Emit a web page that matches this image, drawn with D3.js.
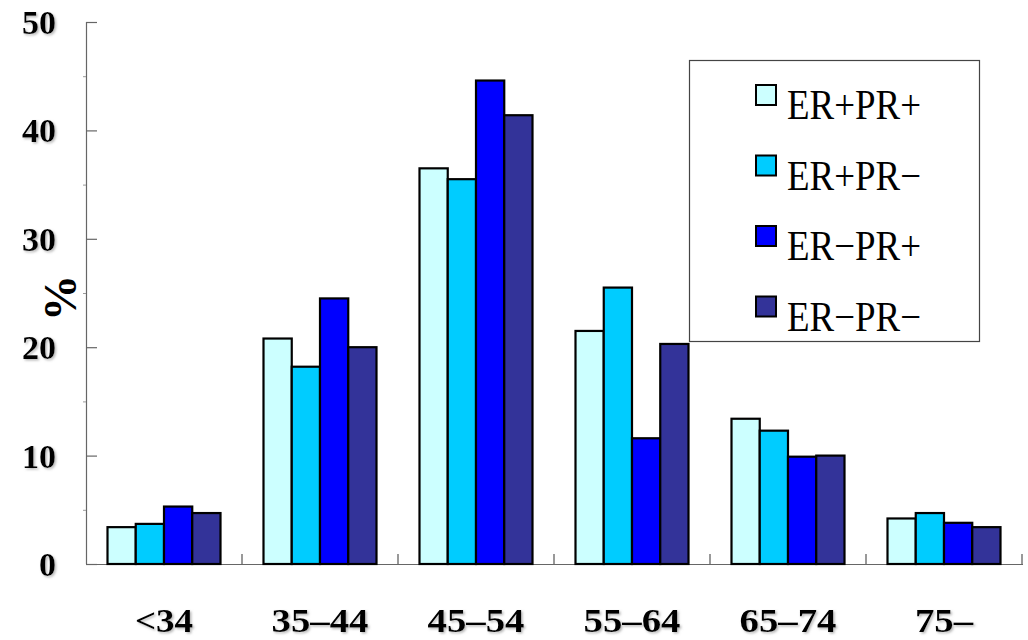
<!DOCTYPE html>
<html>
<head>
<meta charset="utf-8">
<script src="https://cdn.jsdelivr.net/npm/d3@7"></script>
<style>
  html, body { margin: 0; padding: 0; background: #ffffff; }
  svg { display: block; }
</style>
</head>
<body>
<svg id="chart" width="1028" height="640"></svg>
<script>
// ---- data ----
const categories = ["<34", "35-44", "45-54", "55-64", "65-74", "75-"];
const seriesNames = ["ER+PR+", "ER+PR\u2212", "ER\u2212PR+", "ER\u2212PR\u2212"];
const seriesColors = ["#CCFFFF", "#00CCFF", "#0000FF", "#333399"];
const erpPrp = [3.4, 20.8, 36.5, 21.5, 13.4, 4.2];
const erpPrn = [3.7, 18.2, 35.5, 25.5, 12.3, 4.7];
const ernPrp = [5.3, 24.5, 44.6, 11.6, 9.9, 3.8];
const ernPrn = [4.7, 20.0, 41.4, 20.3, 10.0, 3.4];
const seriesValues = [erpPrp, erpPrn, ernPrp, ernPrn];
const yTicks = [0, 10, 20, 30, 40, 50];
const yLabel = "%";

(function () {
// ---- layout ----
const svg = d3.select("#chart");
const mLeft = 86, mRight = 1022, mTop = 22, mBottom = 564;

const defs = svg.append("defs");
const f = defs.append("filter").attr("id", "shadow").attr("x", "-10%").attr("y", "-10%").attr("width", "130%").attr("height", "130%");
f.append("feDropShadow").attr("dx", 1.5).attr("dy", 1.5).attr("stdDeviation", 1).attr("flood-color", "#888").attr("flood-opacity", 0.6);

const y = d3.scaleLinear().domain([0, 50]).range([mBottom, mTop]);
const x0 = d3.scaleBand().domain(categories).range([mLeft, mRight]).padding(0);
const x1 = d3.scaleBand().domain(seriesNames).range([21.5, x0.bandwidth() - 21.5]).padding(0);

// y axis
const yAxis = d3.axisLeft(y).tickValues(yTicks).tickSize(-11).tickFormat("");
const gy = svg.append("g").attr("transform", `translate(${mLeft},0)`).call(yAxis);
gy.select(".domain").attr("stroke", "#666").attr("stroke-width", 1.2).attr("d", `M0.5,${mTop}V${mBottom}`);
gy.selectAll(".tick line").attr("stroke", "#666").attr("stroke-width", 1.2);
// minor ticks
const yMinor = d3.axisLeft(y).tickValues([5, 15, 25, 35, 45]).tickSize(3).tickFormat("");
const gym = svg.append("g").attr("transform", `translate(${mLeft},0)`).call(yMinor);
gym.select(".domain").remove();
gym.selectAll(".tick line").attr("stroke", "#999");

// y tick labels
svg.append("g").selectAll("text").data(yTicks).join("text")
  .attr("x", 56).attr("y", d => y(d) + 12)
  .attr("text-anchor", "end")
  .attr("font-family", "'Liberation Serif', 'DejaVu Serif', serif")
  .attr("font-weight", "bold").attr("font-size", 34)
  .attr("fill", "#000").attr("filter", "url(#shadow)")
  .text(d => d);

// y label
svg.append("text")
  .attr("transform", "translate(76,298) rotate(-90)")
  .attr("text-anchor", "middle")
  .attr("font-family", "'Liberation Serif', 'DejaVu Serif', serif")
  .attr("font-weight", "bold").attr("font-size", 46)
  .attr("fill", "#000")
  .text(yLabel);

// x axis
const xAxis = d3.axisBottom(x0).tickSize(0).tickFormat("");
const gx = svg.append("g").attr("transform", `translate(0,${mBottom})`).call(xAxis);
gx.select(".domain").attr("stroke", "#666").attr("stroke-width", 1.2).attr("d", `M${mLeft},0.5H${mRight + 1}`);
// separator ticks between categories
const seps = categories.map(c => x0(c) + x0.bandwidth());
svg.append("g").selectAll("line").data(seps).join("line")
  .attr("x1", d => d).attr("x2", d => d)
  .attr("y1", mBottom - 10).attr("y2", mBottom)
  .attr("stroke", "#555").attr("stroke-width", 1.2);

// x labels
svg.append("g").selectAll("text").data(categories).join("text")
  .attr("x", d => x0(d) + x0.bandwidth() / 2)
  .attr("y", 632)
  .attr("text-anchor", "middle")
  .attr("font-family", "'Liberation Serif', 'DejaVu Serif', serif")
  .attr("font-weight", "bold").attr("font-size", 34)
  .attr("textLength", d => d.length * 19.4)
  .attr("lengthAdjust", "spacingAndGlyphs")
  .attr("fill", "#000").attr("filter", "url(#shadow)")
  .text(d => d.replace("-", "\u2013"));

// bars
const groups = svg.append("g").selectAll("g").data(categories).join("g")
  .attr("transform", d => `translate(${x0(d)},0)`);
groups.selectAll("rect")
  .data((c, ci) => seriesNames.map((s, si) => ({ s, si, v: seriesValues[si][ci] })))
  .join("rect")
  .attr("x", d => x1(d.s))
  .attr("y", d => y(d.v))
  .attr("width", x1.bandwidth())
  .attr("height", d => mBottom - y(d.v))
  .attr("fill", d => seriesColors[d.si])
  .attr("stroke", "#000").attr("stroke-width", 2.2);

// legend
const lg = svg.append("g");
lg.append("rect").attr("x", 689.5).attr("y", 60.5).attr("width", 290).attr("height", 281)
  .attr("fill", "#fff").attr("stroke", "#444").attr("stroke-width", 1.2);
const items = lg.selectAll("g.item").data(seriesNames).join("g").attr("class", "item")
  .attr("transform", (d, i) => `translate(0,${i * 70.5})`);
items.append("rect").attr("x", 756).attr("y", 85).attr("width", 20).attr("height", 20)
  .attr("fill", (d, i) => seriesColors[i]).attr("stroke", "#000").attr("stroke-width", 2);
items.append("text").attr("x", 787).attr("y", 119)
  .attr("font-family", "'Liberation Serif', 'Times New Roman', serif")
  .attr("font-size", 42)
  .attr("textLength", 134).attr("lengthAdjust", "spacingAndGlyphs")
  .attr("fill", "#000")
  .text(d => d);
})();
</script>
</body>
</html>
